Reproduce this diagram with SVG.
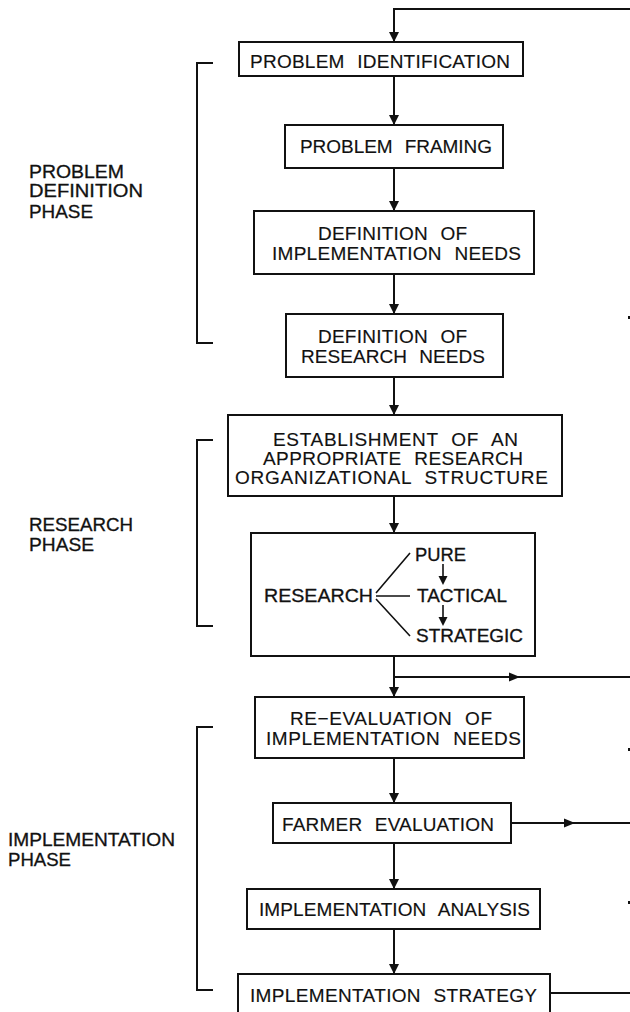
<svg xmlns="http://www.w3.org/2000/svg" width="630" height="1012" viewBox="0 0 630 1012">
  <style>
    .box { fill: #fff; stroke: #111; stroke-width: 2; }
    .ln { fill: none; stroke: #111; stroke-width: 2; }
    .thin { fill: none; stroke: #111; stroke-width: 1.6; }
    .t { font-family: "Liberation Sans", Arial, sans-serif; font-size: 19px; fill: #111; word-spacing: 7px; stroke: #111; stroke-width: 0.15; }
    .tb { font-family: "Liberation Sans", Arial, sans-serif; font-size: 18px; fill: #111; stroke: #111; stroke-width: 0.3; }
    .head { fill: #111; }
  </style>
  <defs>
    <marker id="arrow" viewBox="0 0 10 10" refX="10" refY="5" markerWidth="5.5" markerHeight="5" markerUnits="strokeWidth" orient="auto">
      <path d="M0,0 L10,5 L0,10 Z" class="head"/>
    </marker>
  </defs>

  <!-- phase brackets and labels -->
  <g id="phase-problem-definition">
    <path class="ln" d="M213,63 H197 V343 H213"/>
    <text class="tb" x="29" y="178" textLength="95" lengthAdjust="spacingAndGlyphs">PROBLEM</text>
    <text class="tb" x="29" y="197" textLength="114" lengthAdjust="spacingAndGlyphs">DEFINITION</text>
    <text class="tb" x="29" y="218" textLength="64" lengthAdjust="spacingAndGlyphs">PHASE</text>
  </g>
  <g id="phase-research">
    <path class="ln" d="M213,440 H197 V626 H213"/>
    <text class="tb" x="29" y="531" textLength="104" lengthAdjust="spacingAndGlyphs">RESEARCH</text>
    <text class="tb" x="29" y="551" textLength="65" lengthAdjust="spacingAndGlyphs">PHASE</text>
  </g>
  <g id="phase-implementation">
    <path class="ln" d="M213,727 H197 V990 H213"/>
    <text class="tb" x="8" y="846" textLength="167" lengthAdjust="spacingAndGlyphs">IMPLEMENTATION</text>
    <text class="tb" x="8" y="866" textLength="63" lengthAdjust="spacingAndGlyphs">PHASE</text>
  </g>

  <!-- connectors -->
  <g id="connectors">
    <path class="ln" d="M630,9 H394 V42" marker-end="url(#arrow)"/>
    <path class="ln" d="M394,76 V125" marker-end="url(#arrow)"/>
    <path class="ln" d="M394,168 V211" marker-end="url(#arrow)"/>
    <path class="ln" d="M394,274 V314" marker-end="url(#arrow)"/>
    <path class="ln" d="M394,377 V415" marker-end="url(#arrow)"/>
    <path class="ln" d="M394,496 V533" marker-end="url(#arrow)"/>
    <path class="ln" d="M394,656 V697" marker-end="url(#arrow)"/>
    <path class="ln" d="M394,677 H630"/>
    <path class="head" d="M520,677 L509,672.5 L509,681.5 Z"/>
    <path class="ln" d="M394,758 V803" marker-end="url(#arrow)"/>
    <path class="ln" d="M394,843 V889" marker-end="url(#arrow)"/>
    <path class="ln" d="M394,929 V974" marker-end="url(#arrow)"/>
    <path class="ln" d="M511,823 H630"/>
    <path class="head" d="M575,823 L564,818.5 L564,827.5 Z"/>
    <path class="ln" d="M550,993 H630"/>
    <!-- arrow tips of a return line running just past the right edge -->
    <rect class="head" x="628" y="316" width="2" height="3"/>
    <rect class="head" x="628" y="748" width="2" height="3"/>
    <rect class="head" x="628" y="901" width="2" height="3"/>
  </g>

  <!-- nodes -->
  <g id="problem-identification">
    <rect class="box" x="239" y="42" width="284" height="34"/>
    <text class="t" x="250" y="68" textLength="260" lengthAdjust="spacing">PROBLEM IDENTIFICATION</text>
  </g>
  <g id="problem-framing">
    <rect class="box" x="285" y="125" width="218" height="43"/>
    <text class="t" x="300" y="153" textLength="192" lengthAdjust="spacing">PROBLEM FRAMING</text>
  </g>
  <g id="implementation-needs">
    <rect class="box" x="254" y="211" width="280" height="63"/>
    <text class="t" x="318" y="240" textLength="149" lengthAdjust="spacing">DEFINITION OF</text>
    <text class="t" x="272" y="260" textLength="249" lengthAdjust="spacing">IMPLEMENTATION NEEDS</text>
  </g>
  <g id="research-needs">
    <rect class="box" x="286" y="314" width="217" height="63"/>
    <text class="t" x="318" y="343" textLength="149" lengthAdjust="spacing">DEFINITION OF</text>
    <text class="t" x="301" y="363" textLength="184" lengthAdjust="spacing">RESEARCH NEEDS</text>
  </g>
  <g id="organizational-structure">
    <rect class="box" x="228" y="415" width="334" height="81"/>
    <text class="t" x="273" y="446" textLength="245" lengthAdjust="spacing">ESTABLISHMENT OF AN</text>
    <text class="t" x="263" y="465" textLength="260" lengthAdjust="spacing">APPROPRIATE RESEARCH</text>
    <text class="t" x="235" y="484" textLength="313" lengthAdjust="spacing">ORGANIZATIONAL STRUCTURE</text>
  </g>
  <g id="research">
    <rect class="box" x="251" y="533" width="284" height="123"/>
    <text class="tb" x="264" y="602" textLength="109" lengthAdjust="spacingAndGlyphs">RESEARCH</text>
    <path class="thin" d="M376,593 L410,553 M376,596 H410 M376,599 L410,636"/>
    <text class="tb" x="415" y="561" textLength="51" lengthAdjust="spacingAndGlyphs">PURE</text>
    <text class="tb" x="417" y="602" textLength="90" lengthAdjust="spacingAndGlyphs">TACTICAL</text>
    <text class="tb" x="416" y="642" textLength="107" lengthAdjust="spacingAndGlyphs">STRATEGIC</text>
    <path class="thin" d="M443,564 V578"/>
    <path class="head" d="M443,585 L438.5,576 L447.5,576 Z"/>
    <path class="thin" d="M443,605 V619"/>
    <path class="head" d="M443,626 L438.5,617 L447.5,617 Z"/>
  </g>
  <g id="re-evaluation">
    <rect class="box" x="255" y="697" width="269" height="61"/>
    <text class="t" x="290" y="725" textLength="202" lengthAdjust="spacing">RE−EVALUATION OF</text>
    <text class="t" x="266" y="745" textLength="255" lengthAdjust="spacing">IMPLEMENTATION NEEDS</text>
  </g>
  <g id="farmer-evaluation">
    <rect class="box" x="273" y="803" width="238" height="40"/>
    <text class="t" x="282" y="831" textLength="212" lengthAdjust="spacing">FARMER EVALUATION</text>
  </g>
  <g id="implementation-analysis">
    <rect class="box" x="247" y="889" width="293" height="40"/>
    <text class="t" x="259" y="916" textLength="271" lengthAdjust="spacing">IMPLEMENTATION ANALYSIS</text>
  </g>
  <g id="implementation-strategy">
    <rect class="box" x="238" y="974" width="312" height="44"/>
    <text class="t" x="250" y="1002" textLength="287" lengthAdjust="spacing">IMPLEMENTATION STRATEGY</text>
  </g>
</svg>
